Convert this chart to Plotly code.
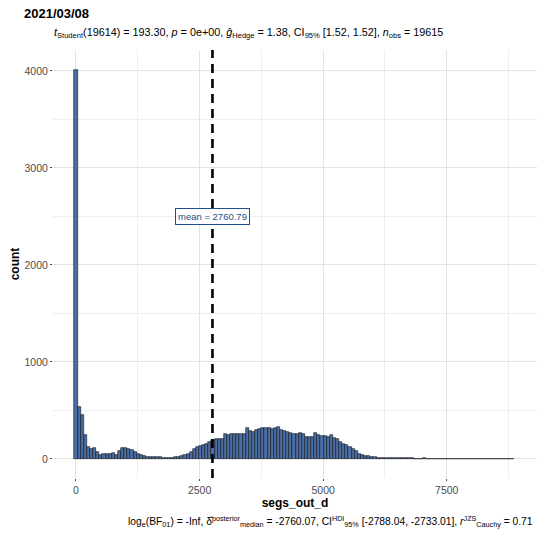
import plotly.graph_objects as go

# ---- data ----
title_text = "2021/03/08"
x_label = "segs_out_d"
y_label = "count"
bin_width = 63.0
counts = [
    4010, 540, 453, 247, 127, 103, 110, 69, 41, 48,
    55, 48, 58, 41, 82, 117, 110, 100, 89, 69,
    51, 38, 27, 24, 21, 21, 21, 24, 14, 10,
    10, 14, 17, 24, 30, 38, 48, 69, 100, 120,
    130, 144, 154, 172, 192, 209, 209, 209, 261, 244,
    254, 257, 257, 257, 257, 322, 288, 281, 295, 309,
    319, 316, 316, 309, 316, 333, 295, 292, 281, 264,
    261, 254, 264, 257, 223, 230, 223, 268, 244, 233,
    233, 226, 247, 213, 202, 178, 154, 141, 120, 106,
    79, 55, 45, 34, 27, 21, 17, 14, 14, 10,
    10, 10, 7, 7, 7, 7, 12, 9, 6, 5,
    4, 5, 8, 4, 3, 3, 2, 3, 2, 2,
    2, 1, 2, 1, 1, 1, 1, 1, 1, 1,
    1, 1, 1, 1, 1, 1, 1, 1, 1, 1, 1,
]
mean_value = 2760.79
x_ticks = [0, 2500, 5000, 7500]
x_minor = [1250, 3750, 6250, 8750]
y_ticks = [0, 1000, 2000, 3000, 4000]
y_minor = [500, 1500, 2500, 3500]
label_y = 2500

subtitle = ("<i>t</i><sub>Student</sub>(19614) = 193.30, <i>p</i> = 0e+00, "
            "<i>ĝ</i><sub>Hedge</sub> = 1.38, CI<sub>95%</sub> [1.52, 1.52], "
            "<i>n</i><sub>obs</sub> = 19615")
caption = ("log<sub>e</sub>(BF<sub>01</sub>) = -Inf, "
           "δ̂<sup>posterior</sup><sub>median</sub> = -2760.07, "
           "CI<sup>HDI</sup><sub>95%</sub> [-2788.04, -2733.01], "
           "<i>r</i><sup>JZS</sup><sub>Cauchy</sub> = 0.71")

centers = [i * bin_width for i in range(len(counts))]

FONT = "Liberation Sans, Arial, sans-serif"
H, W, L, R, T, B = 533, 537, 53, 0, 50, 55
pw, ph = W - L - R, H - T - B


def px_to_paper(px, py):
    return (px - L) / pw, (H - B - py) / ph


fig = go.Figure()
fig.add_trace(go.Bar(
    x=centers, y=counts, width=bin_width,
    marker=dict(color="#4A6FA6", line=dict(color="#111111", width=0.6)),
    showlegend=False,
))

fig.add_shape(type="line", x0=mean_value, x1=mean_value, y0=0, y1=1,
              xref="x", yref="paper",
              line=dict(color="black", width=2.6, dash="9px,6px"))

fig.add_annotation(x=mean_value, y=label_y, xref="x", yref="y",
                   text="mean = " + f"{mean_value:.2f}", showarrow=False,
                   font=dict(family=FONT, size=9.5, color="#1F4E8C"),
                   bgcolor="white", bordercolor="#1F4E8C", borderwidth=1,
                   borderpad=2)

sx, sy = px_to_paper(52, 33)
fig.add_annotation(x=sx, y=sy, xref="paper", yref="paper", text=subtitle,
                   xanchor="left", yanchor="middle", showarrow=False,
                   font=dict(family=FONT, size=10.8, color="black"))
cx, cy = px_to_paper(535, 521)
fig.add_annotation(x=cx, y=cy, xref="paper", yref="paper", text=caption,
                   xanchor="right", yanchor="middle", showarrow=False,
                   font=dict(family=FONT, size=10.3, color="black"))

fig.update_layout(
    width=W, height=H,
    margin=dict(l=L, r=R, t=T, b=B),
    paper_bgcolor="white", plot_bgcolor="white",
    font=dict(family=FONT, color="black"),
    title=dict(text="<b>" + title_text + "</b>", x=24 / W, xanchor="left",
               y=1 - 13 / H, yanchor="middle",
               font=dict(size=13, family=FONT, color="black")),
    bargap=0,
)

axis_common = dict(
    showgrid=True, gridcolor="#E3E3E3", gridwidth=1,
    zeroline=False, showline=False,
    ticks="outside", ticklen=2, tickcolor="#4D4D4D", tickwidth=1,
    tickfont=dict(family=FONT, size=10.5, color="#4D4D4D"),
)
fig.update_xaxes(range=[-465, 9326], tickvals=x_ticks,
                 ticktext=[str(v) for v in x_ticks],
                 title=dict(text="<b>" + x_label + "</b>", standoff=0,
                            font=dict(family=FONT, size=12, color="black")),
                 minor=dict(tickvals=x_minor, ticks="", showgrid=True,
                            gridcolor="#EEEEEE", gridwidth=0.8),
                 **axis_common)
fig.update_yaxes(range=[-196, 4216], tickvals=y_ticks,
                 ticktext=[str(v) for v in y_ticks],
                 title=dict(text="<b>" + y_label + "</b>", standoff=2,
                            font=dict(family=FONT, size=12, color="black")),
                 minor=dict(tickvals=y_minor, ticks="", showgrid=True,
                            gridcolor="#EEEEEE", gridwidth=0.8),
                 **axis_common)

fig.write_html("out.html")
